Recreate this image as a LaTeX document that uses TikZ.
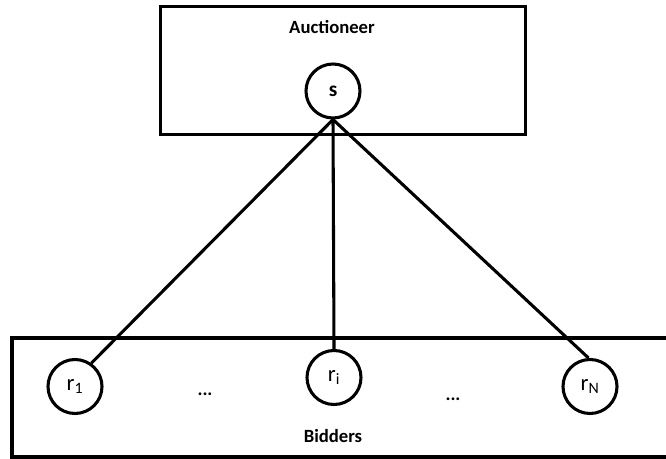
\documentclass[tikz,border=0pt]{standalone}
\usepackage{fontspec}
\setmainfont{Carlito}
\begin{document}
\begin{tikzpicture}[x=0.75pt,y=-0.75pt,
  frame/.style={draw, line width=2.4pt, inner sep=0pt, rectangle},
  agent/.style={draw, circle, line width=2.3pt, inner sep=0pt, minimum size=40.5pt,
    font=\fontsize{17}{20}\selectfont},
  caption/.style={font=\bfseries\fontsize{14}{17}\selectfont},
  link/.style={line width=2.3pt}]
\useasboundingbox (0,0) rectangle (666,459);
\clip (0,0) rectangle (666,459);

% auctioneer and bidder groups
\node[frame, minimum width=273.6pt, minimum height=96pt] (top) at (343.1,70.5) {};
\node[frame, minimum width=492pt, minimum height=89.25pt] (bottom) at (340,397.5) {};

\node[caption] (auct) at (332,27) {Auctioneer};
\node[caption] (bid) at (333,436) {Bidders};

% agents
\node[agent, font=\bfseries\fontsize{16}{19}\selectfont] (s) at (333,91) {s};
\node[agent] (r1) at (75,386.5) {r\textsubscript{1}};
\node[agent] (ri) at (334,377.5) {r\textsubscript{i}};
\node[agent] (rN) at (590,386.5) {r\textsubscript{N}};

\node[caption] (dots1) at (205,394) {...};
\node[caption] (dots2) at (453,399) {...};

% links from the auctioneer to each bidder
\draw[link] (s.south) -- (r1.55);
\draw[link] (s.south) -- (ri.north);
\draw[link] (s.south) -- (rN.93);
\end{tikzpicture}
\end{document}
